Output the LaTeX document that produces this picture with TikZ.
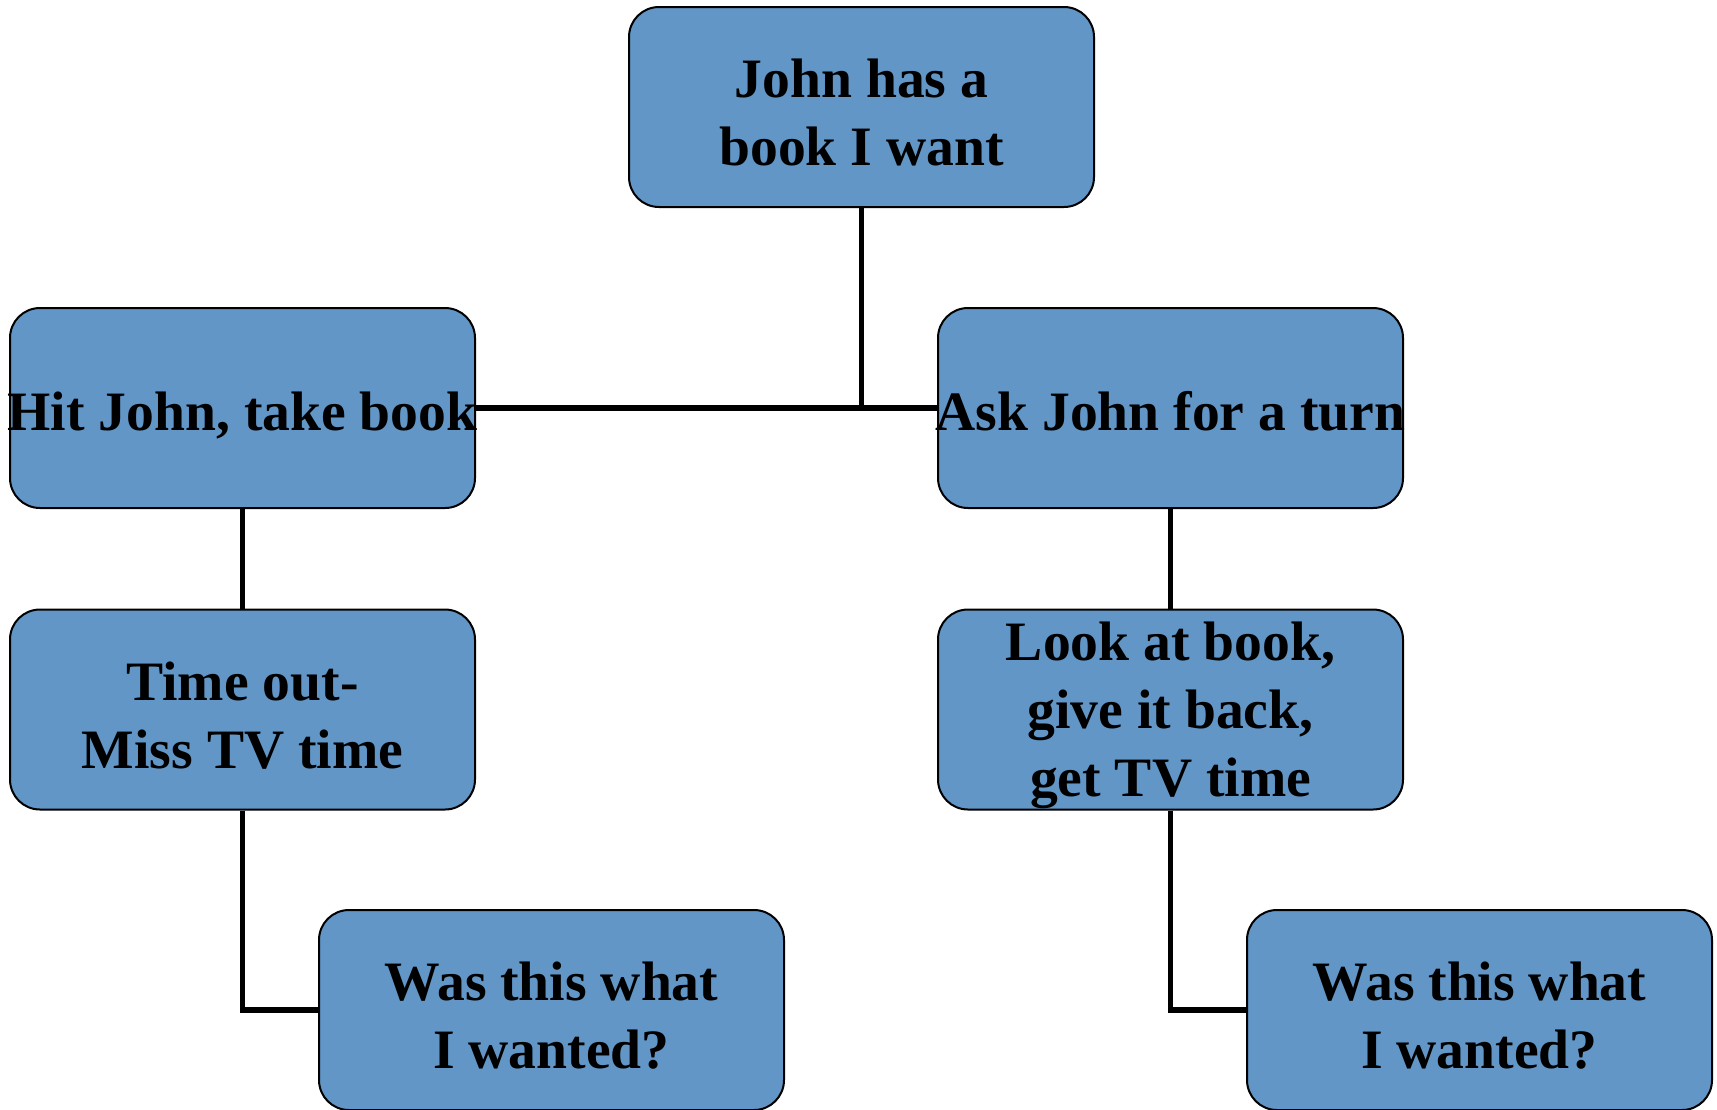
\documentclass[tikz,border=0pt]{standalone}
\usepackage{fontspec}
\setmainfont{Liberation Serif}
\usepackage{xcolor}
\usetikzlibrary{math}
\definecolor{boxblue}{RGB}{97,150,199}
\newcommand{\topline}{\rule{0pt}{25pt}}

\begin{document}
\begin{tikzpicture}[x=0.5pt,y=-0.5pt,
  choice/.style={draw=black, line width=1pt, fill=boxblue, rounded corners=15pt,
    minimum width=232.5pt, minimum height=100pt, inner ysep=0pt, inner xsep=-4pt,
    align=center, font=\fontsize{27.8}{34}\selectfont\bfseries},
  oneline/.style={text height=22pt, text depth=0pt},
  link/.style={line width=2.6pt}]
\tikzmath{
\L=242.5; \R=1170.5;
}
\useasboundingbox (0,0) rectangle (1717,1109);

% the choice and what follows from it
\node[choice] (want) at (861.5,107) {\topline John has a\\book I want};
\node[choice, oneline] (hit) at (\L,408) {Hit John, take book};
\node[choice, oneline] (ask) at (\R,408) {Ask John for a turn};
\node[choice] (timeout) at (\L,709.5) {\topline Time out-\\Miss TV time};
\node[choice] (look) at (\R,709.5) {\topline Look at book,\\give it back,\\get TV time};
\node[choice] (wasA) at (\L+309,1010) {\topline Was this what\\I wanted?};
\node[choice] (wasB) at (\R+309,1010) {\topline Was this what\\I wanted?};

\draw[link] (hit.east) -- (ask.west);
\draw[link] (want.south) -- (want.south |- hit.east);
\draw[link] (hit.south) -- (timeout.north);
\draw[link] (ask.south) -- (look.north);
\draw[link] (timeout.south) |- (wasA.west);
\draw[link] (look.south) |- (wasB.west);
\end{tikzpicture}
\end{document}
